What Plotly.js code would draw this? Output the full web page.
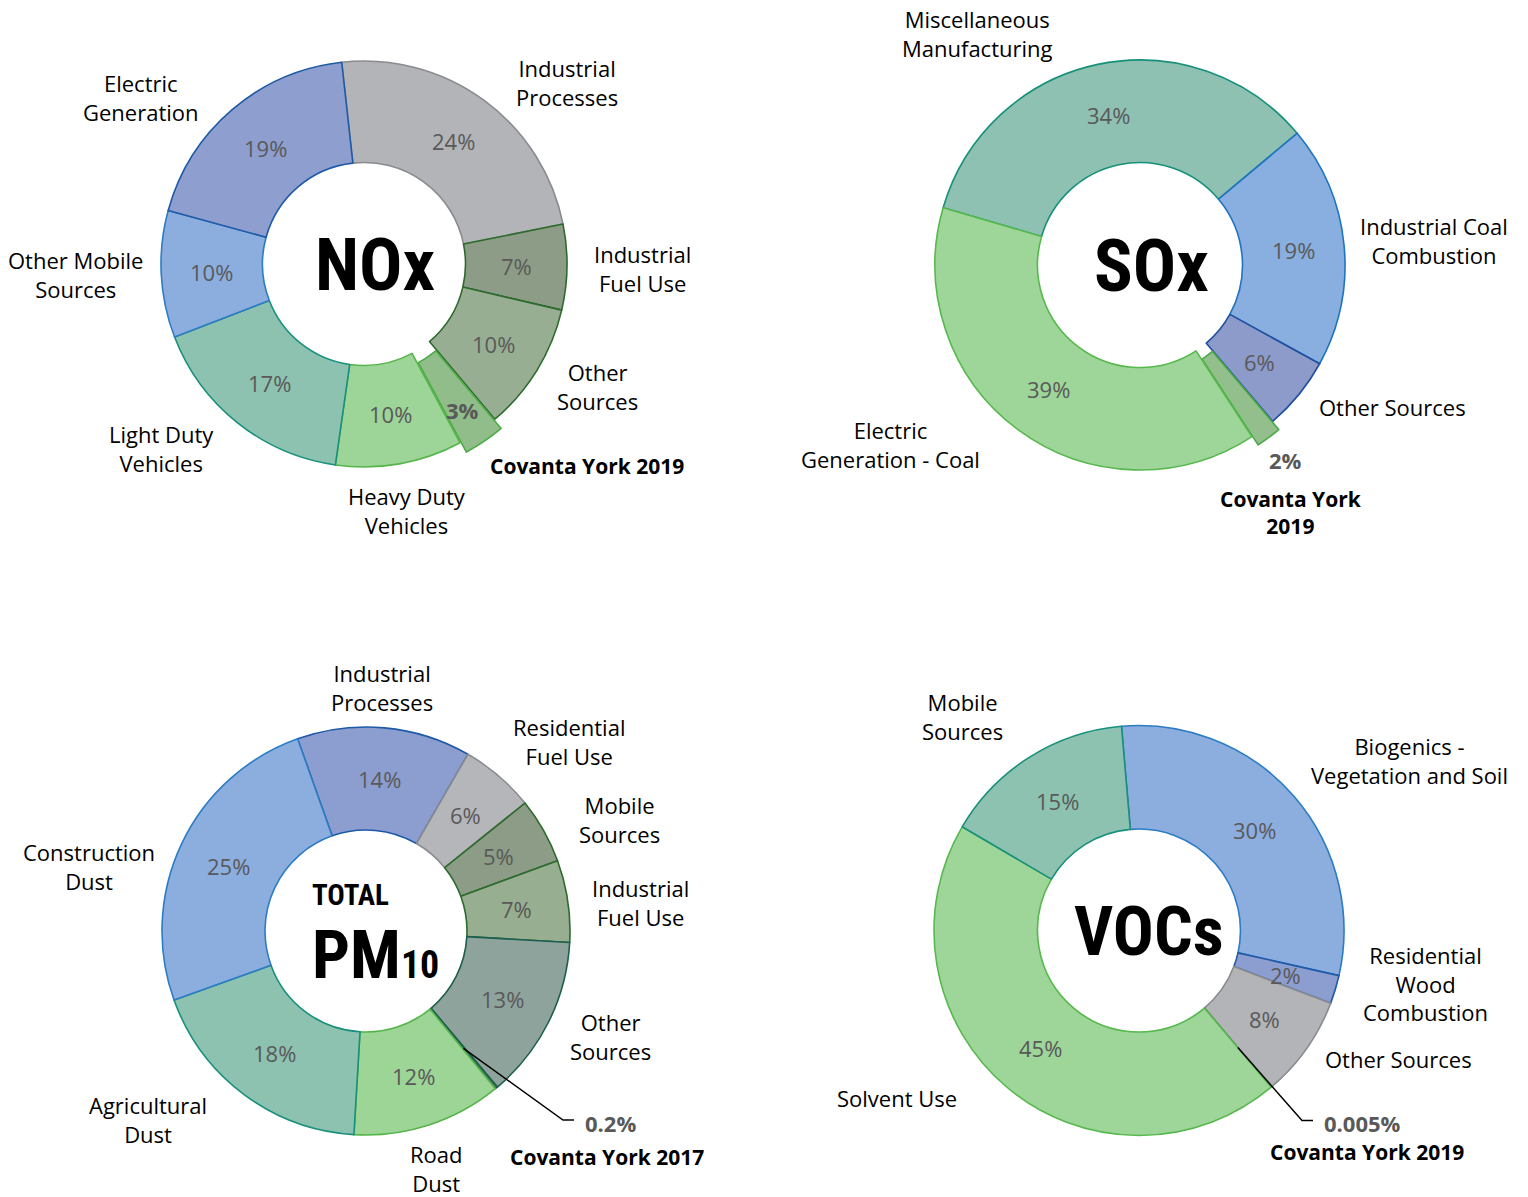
<!DOCTYPE html>
<html><head><meta charset="utf-8">
<script src="https://cdn.plot.ly/plotly-3.0.1.min.js"></script>
<style>html,body{margin:0;padding:0;background:#fff}#chart{width:1528px;height:1197px}</style>
</head><body><div id="chart"></div>
<script>
const W = 1528, H = 1197;

// ---------- DATA ----------
// NOx
const noxLabels = ["Industrial<br>Processes","Industrial<br>Fuel Use","Other<br>Sources","Covanta York 2019","Heavy Duty<br>Vehicles","Light Duty<br>Vehicles","Other Mobile<br>Sources","Electric<br>Generation"];
const noxValues = [23.6, 6.8, 10.2, 3.3, 10.1, 16.9, 10.1, 19.0];
const noxPct    = ["24%","7%","10%","3%","10%","17%","10%","19%"];
// SOx
const soxLabels = ["Miscellaneous<br>Manufacturing","Industrial Coal<br>Combustion","Other Sources","Covanta York<br>2019","Electric<br>Generation - Coal"];
const soxValues = [34.4, 19.1, 5.8, 2.0, 38.7];
const soxPct    = ["34%","19%","6%","2%","39%"];
// PM10
const pmLabels = ["Industrial<br>Processes","Residential<br>Fuel Use","Mobile<br>Sources","Industrial<br>Fuel Use","Other<br>Sources","Covanta York 2017","Road<br>Dust","Agricultural<br>Dust","Construction<br>Dust"];
const pmValues = [13.8, 5.9, 5.2, 6.5, 13.0, 0.2, 11.9, 18.6, 25.1];
const pmPct    = ["14%","6%","5%","7%","13%","0.2%","12%","18%","25%"];
// VOCs
const vocLabels = ["Biogenics -<br>Vegetation and Soil","Residential<br>Wood<br>Combustion","Other Sources","Covanta York 2019","Solvent Use","Mobile<br>Sources"];
const vocValues = [29.9, 2.25, 8.06, 0.005, 44.6, 15.2];
const vocPct    = ["30%","2%","8%","0.005%","45%","15%"];

// ---------- LAYOUT / STYLE ----------
const FONT = "'Open Sans', 'DejaVu Sans', sans-serif";
const TITLEFONT = "'Liberation Sans Narrow', 'Roboto Condensed', 'DejaVu Sans Condensed', sans-serif";
const PCTCOL = "#595959";

const charts = [
  { labels: noxLabels, values: noxValues, pct: noxPct, cx: 364, cy: 264, r: 203, hole: 0.5, rotation: -6.3,
    pull: [0,0,0,0.055,0,0,0,0],
    colors: ["#b3b4b8","#8d9c87","#98ae93","#90bd8a","#9dd497","#8dc2b1","#8caedf","#8e9ecf"],
    lines:  ["#8a8b8f","#2d6a2d","#2d6a2d","#4eac46","#55b54b","#18907c","#2c7cc4","#1f5aa6"],
    special: {3: {mode: 'ring', rad: 176}},
    labelPos: [[567,83],[642,268],[597,387],[587,466],[407,511],[161,448],[75,274],[141,97]],
    center: {text: "NOx", x: 375, y: 265, size: 72}
  },
  { labels: soxLabels, values: soxValues, pct: soxPct, cx: 1140, cy: 265, r: 205, hole: 0.5, rotation: -73.8,
    pull: [0,0,0,0.05,0],
    colors: ["#8ec1b2","#89aee0","#8d9bcb","#93bf8d","#9ed598"],
    lines:  ["#16907a","#1f74c0","#1f4f9e","#4aa944","#57b84e"],
    special: {3: {mode: 'ring', rad: 243}},
    labelPos: [[977,33],[1434,240],[1392,407],[1291,512],[891,444]],
    center: {text: "SOx", x: 1151, y: 266, size: 72}
  },
  { labels: pmLabels, values: pmValues, pct: pmPct, cx: 366, cy: 931, r: 204, hole: 0.495, rotation: -19.6,
    pull: [0,0,0,0,0,0,0,0,0],
    colors: ["#8c9dd0","#b5b6ba","#8c9c86","#97ae90","#8fa39d","#4e7a50","#9dd597","#8dc2b1","#8caedf"],
    lines:  ["#1f5aa6","#8a8b8f","#2d6a2d","#2d6a2d","#1d5f4f","#1d5f4f","#55b54b","#18907c","#2c7cc4"],
    special: {5: {mode: 'leader', pos: [610,1123], elbow: [563,1120], end: [574,1120]}},
    labelPos: [[382,687],[569,741],[619,819],[640,902],[610,1036],[607,1157],[436,1168],[148,1119],[89,866]],
    center: {text: "<span style='font-size:29px'>TOTAL</span><br>PM<span style='font-size:38px'>10</span>",
             x: 375, y: 936, size: 56, bigSpan: 67, align: 'left'}
  },
  { labels: vocLabels, values: vocValues, pct: vocPct, cx: 1139, cy: 930.5, r: 205, hole: 0.495, rotation: -4.9,
    pull: [0,0,0,0,0,0],
    colors: ["#8caedf","#8c9dd0","#b3b4b8","#808080","#9ed598","#8dc2b1"],
    lines:  ["#2c7cc4","#1f5aa6","#8a8b8f","#555555","#57b84e","#18907c"],
    special: {3: {mode: 'leader', pos: [1362,1123], elbow: [1302,1120.5], end: [1313,1120.5]}},
    labelPos: [[1409,760],[1425,983],[1398,1059],[1367,1152],[897,1098],[963,716]],
    center: {text: "VOCs", x: 1149, y: 932, size: 68}
  }
];

const px = x => x / W;
const py = y => 1 - y / H;

const traces = [];
const annotations = [];
const shapes = [];

charts.forEach(c => {
  const maxPull = Math.max(...c.pull);
  const half = c.r * (1 + maxPull);
  traces.push({
    type: 'pie',
    labels: c.labels.map(l => l.replace(/<br>/g, ' ')),
    values: c.values,
    hole: c.hole,
    sort: false,
    direction: 'clockwise',
    rotation: c.rotation,
    pull: c.pull,
    textinfo: 'none',
    hoverinfo: 'label+value',
    marker: { colors: c.colors, line: { color: c.lines, width: 1.6 } },
    domain: { x: [px(c.cx - half), px(c.cx + half)], y: [py(c.cy + half), py(c.cy - half)] }
  });

  const total = c.values.reduce((a, b) => a + b, 0);
  let cum = 0;
  const ringR = c.r * (1 + c.hole) / 2;
  c.values.forEach((v, i) => {
    const mid = (c.rotation + 360 * (cum + v / 2) / total) * Math.PI / 180;
    cum += v;
    const sp = c.special[i];
    if (!sp) {
      const rr = ringR + c.pull[i] * c.r;
      annotations.push({ xref: 'paper', yref: 'paper', x: px(c.cx + rr * Math.sin(mid)), y: py(c.cy - rr * Math.cos(mid)),
        text: c.pct[i], showarrow: false, xanchor: 'center', yanchor: 'middle',
        font: { family: FONT, size: 22, color: PCTCOL } });
    } else if (sp.mode === 'ring') {
      annotations.push({ xref: 'paper', yref: 'paper', x: px(c.cx + sp.rad * Math.sin(mid)), y: py(c.cy - sp.rad * Math.cos(mid)),
        text: c.pct[i], showarrow: false, xanchor: 'center', yanchor: 'middle',
        font: { family: FONT, size: 22, color: PCTCOL, weight: 'bold' } });
    } else {
      const sx = c.cx + ringR * Math.sin(mid), sy = c.cy - ringR * Math.cos(mid);
      shapes.push({ type: 'path', xref: 'paper', yref: 'paper',
        path: `M ${px(sx)},${py(sy)} L ${px(sp.elbow[0])},${py(sp.elbow[1])} L ${px(sp.end[0])},${py(sp.end[1])}`,
        line: { color: '#000000', width: 1.5 } });
      annotations.push({ xref: 'paper', yref: 'paper', x: px(sp.pos[0]), y: py(sp.pos[1]),
        text: c.pct[i], showarrow: false, xanchor: 'center', yanchor: 'middle',
        font: { family: FONT, size: 22, color: PCTCOL, weight: 'bold' } });
    }
    const isCov = /Covanta/.test(c.labels[i]);
    annotations.push({ xref: 'paper', yref: 'paper', x: px(c.labelPos[i][0]), y: py(c.labelPos[i][1]),
      text: c.labels[i], showarrow: false, xanchor: 'center', yanchor: 'middle', align: 'center',
      font: isCov ? { family: FONT, size: 21, color: '#000000', weight: 'bold' }
                  : { family: FONT, size: 22, color: '#000000' } });
  });

  const t = c.center;
  let txt = t.text;
  if (t.bigSpan) txt = txt.replace('<br>PM', `<br><span style='font-size:${t.bigSpan}px'>PM</span>`);
  annotations.push({ xref: 'paper', yref: 'paper', x: px(t.x), y: py(t.y), text: txt, showarrow: false,
    xanchor: 'center', yanchor: 'middle', align: t.align || 'center',
    font: { family: TITLEFONT, size: t.size, color: '#000000', weight: 'bold' } });
});

const layout = {
  width: W, height: H,
  margin: { l: 0, r: 0, t: 0, b: 0, pad: 0 },
  paper_bgcolor: '#ffffff', plot_bgcolor: '#ffffff',
  showlegend: false,
  annotations: annotations,
  shapes: shapes
};

Plotly.newPlot('chart', traces, layout, { displayModeBar: false, staticPlot: true });
</script>
</body></html>
